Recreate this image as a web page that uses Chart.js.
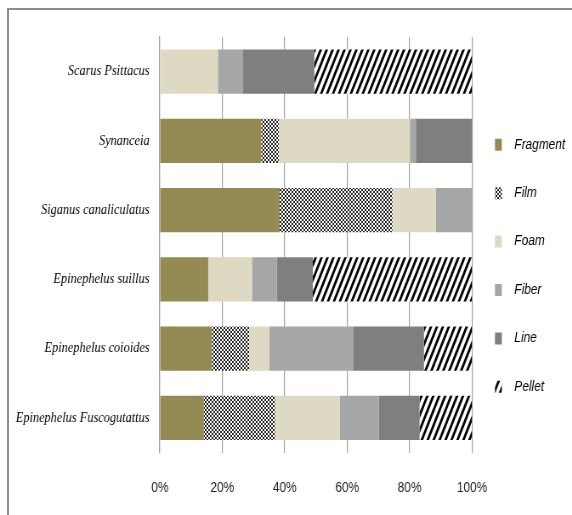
<!DOCTYPE html>
<html>
<head>
<meta charset="utf-8">
<script src="https://cdn.jsdelivr.net/npm/chart.js@4.4.1/dist/chart.umd.min.js"></script>
<style>
  html, body { margin: 0; padding: 0; background: #fff; overflow: hidden; }
  #frame {
    position: absolute; left: 7px; top: 8px; width: 600px; height: 600px;
    border-left: 2px solid #8c8c8c; border-top: 2px solid #8c8c8c;
  }
  #wrap {
    position: absolute; left: 0; top: 0;
    transform: scaleX(0.85); transform-origin: 0 0;
  }
</style>
</head>
<body>
<div id="frame"></div>
<div id="wrap"><canvas id="chart" width="673" height="515"></canvas></div>
<script>
const species = [
  "Scarus Psittacus", "Synanceia", "Siganus canaliculatus",
  "Epinephelus suillus", "Epinephelus coioides", "Epinephelus Fuscogutattus",
];
const fragment = [0, 32.5, 38.4, 15.5, 16.7, 14.1];
const film = [0, 5.6, 36.1, 0, 11.9, 22.8];
const foam = [18.6, 42, 13.9, 14, 6.5, 20.7];
const fiber = [7.9, 1.9, 11.6, 8, 26.8, 12.5];
const line = [23, 18, 0, 11.5, 22.7, 13.1];
const pellet = [50.5, 0, 0, 51, 15.4, 16.8];
const tickLabels = ["0%", "20%", "40%", "60%", "80%", "100%"];

// small diamond lattice, reads as a grey texture like the original
function filmPattern() {
  const c = document.createElement("canvas");
  c.width = 4; c.height = 4;
  const g = c.getContext("2d");
  g.fillStyle = "#fff";
  g.fillRect(0, 0, 4, 4);
  g.fillStyle = "#222";
  for (let i = 0; i < 4; i++) {
    g.fillRect(i, i, 1, 1);
    g.fillRect(3 - i, i, 1, 1);
  }
  return g.createPattern(c, "repeat");
}

function pelletPattern() {
  const w = 7, h = 15;
  const c = document.createElement("canvas");
  c.width = w; c.height = h;
  const g = c.getContext("2d");
  g.fillStyle = "#fff";
  g.fillRect(0, 0, w, h);
  g.fillStyle = "#000";
  [-w, 0, w].forEach((dx) => {
    g.beginPath();
    g.moveTo(dx, h);
    g.lineTo(dx + 3, h);
    g.lineTo(dx + 3 + w, 0);
    g.lineTo(dx + w, 0);
    g.closePath();
    g.fill();
  });
  return g.createPattern(c, "repeat");
}

const series = [
  { label: "Fragment", data: fragment, color: "#948a54" },
  { label: "Film", data: film, color: filmPattern() },
  { label: "Foam", data: foam, color: "#ddd9c3" },
  { label: "Fiber", data: fiber, color: "#a6a6a6" },
  { label: "Line", data: line, color: "#7f7f7f" },
  { label: "Pellet", data: pellet, color: pelletPattern() },
];

new Chart(document.getElementById("chart"), {
  type: "bar",
  data: {
    labels: species,
    datasets: series.map((s) => ({
      label: s.label,
      data: s.data,
      backgroundColor: s.color,
      borderWidth: 0,
      barPercentage: 0.795,
      categoryPercentage: 0.8,
    })),
  },
  options: {
    indexAxis: "y",
    responsive: false,
    devicePixelRatio: 1,
    animation: false,
    layout: { padding: { top: 37, bottom: 13, right: -2, left: 0 } },
    plugins: {
      tooltip: { enabled: false },
      legend: {
        position: "right",
        labels: {
          boxWidth: 8,
          boxHeight: 12,
          padding: 27,
          color: "#000",
          font: { family: "'Liberation Sans', Arial, sans-serif", size: 14, style: "italic", lineHeight: 1.53 },
          generateLabels(chart) {
            const items = Chart.defaults.plugins.legend.labels.generateLabels(chart);
            items.forEach((it) => { it.text = ["  " + it.text]; it.lineWidth = 0; });
            return items;
          },
        },
      },
    },
    scales: {
      x: {
        stacked: true,
        min: 0,
        max: 100,
        afterFit(scale) { scale.height = 49.5; },
        ticks: {
          stepSize: 20,
          padding: 27,
          maxRotation: 0,
          color: "#222",
          font: { family: "'Liberation Sans', Arial, sans-serif", size: 14 },
          callback: (v, i) => tickLabels[i],
        },
        grid: { color: "#a0a0a0", lineWidth: 1.2, drawTicks: false },
        border: { display: false },
      },
      y: {
        stacked: true,
        afterFit(scale) { scale.width = 188; },
        ticks: {
          padding: 12,
          color: "#000",
          font: { family: "'Liberation Serif', 'Times New Roman', serif", size: 14.5, style: "italic" },
        },
        grid: { display: false, drawTicks: false },
        border: { display: true, color: "#a0a0a0", width: 1.2 },
      },
    },
  },
});
</script>
</body>
</html>
